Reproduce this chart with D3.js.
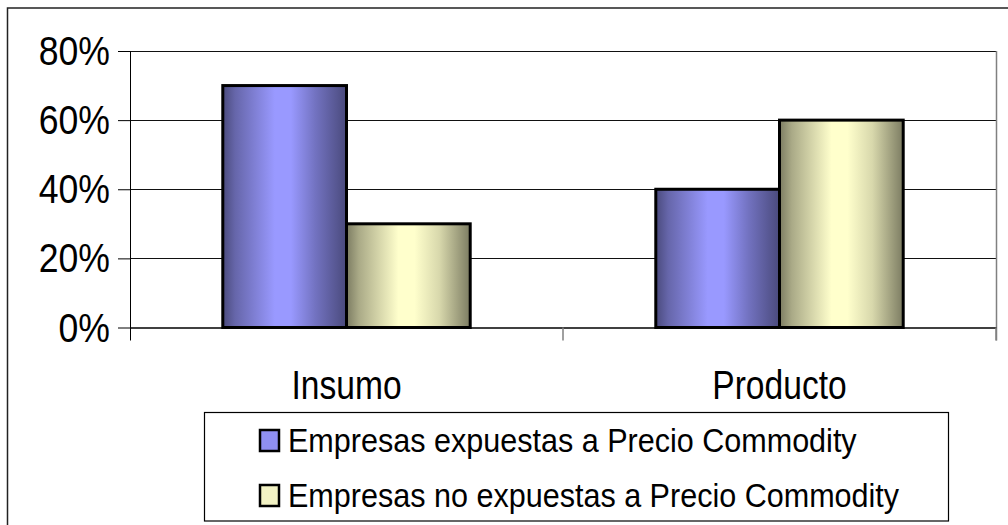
<!DOCTYPE html>
<html>
<head>
<meta charset="utf-8">
<script src="https://cdn.jsdelivr.net/npm/d3@7"></script>
<style>
  html, body { margin: 0; padding: 0; background: #fff; }
  svg { display: block; }
  text { font-family: "Liberation Sans", Arial, sans-serif; fill: #000; }
</style>
</head>
<body>
<svg id="chart" width="1008" height="525"></svg>
<script>
const categories = ["Insumo", "Producto"];
const seriesNames = ["Empresas expuestas a Precio Commodity", "Empresas no expuestas a Precio Commodity"];
const seriesExpuestas = [0.70, 0.40];
const seriesNoExpuestas = [0.30, 0.60];
const yTicks = [0, 0.2, 0.4, 0.6, 0.8];

const svg = d3.select("#chart");
const W = 1008, H = 525;
const plot = { left: 130, right: 996, top: 51, bottom: 327.5 };

// gradients
const defs = svg.append("defs");
function grad(id, edge, mid, peak) {
  const g = defs.append("linearGradient").attr("id", id).attr("x1", "0%").attr("x2", "100%").attr("y1", "0%").attr("y2", "0%");
  [[0, edge], [0.1, d3.interpolateRgb(edge, peak)(0.35)], [0.42, peak], [0.55, peak], [0.75, mid], [1, edge]]
    .forEach(([o, c]) => g.append("stop").attr("offset", o).attr("stop-color", c));
}
grad("gBlue", "#4a4a7c", "#7272c0", "#9999ff");
grad("gYellow", "#7c7c62", "#d8d8ac", "#ffffcc");
const fills = ["url(#gBlue)", "url(#gYellow)"];
const legendFills = ["#8f8ff2", "#f2f2c4"];

// outer chart border
svg.append("rect").attr("x", 7.5).attr("y", 8).attr("width", W + 20).attr("height", H + 20)
  .attr("fill", "none").attr("stroke", "#222").attr("stroke-width", 1.5);

const x0 = d3.scaleBand().domain(categories).range([plot.left, plot.right]).paddingInner(0).paddingOuter(0);
// Excel gap width 150% -> group occupies 2/(2+1.5) of band
const groupW = x0.bandwidth() * 2 / 3.5;
const x1 = d3.scaleBand().domain([0, 1]).range([0, groupW]);
const y = d3.scaleLinear().domain([0, 0.8]).range([plot.bottom, plot.top]);

// gridlines
svg.append("g").selectAll("line").data(yTicks.filter(d => d > 0)).join("line")
  .attr("x1", plot.left).attr("x2", plot.right)
  .attr("y1", d => Math.round(y(d)) + 0.5).attr("y2", d => Math.round(y(d)) + 0.5)
  .attr("stroke", "#111").attr("stroke-width", 1);

// plot right border
svg.append("line").attr("x1", plot.right + 0.5).attr("x2", plot.right + 0.5)
  .attr("y1", plot.top).attr("y2", plot.bottom + 13).attr("stroke", "#808080").attr("stroke-width", 1.5);

// bars
const data = [seriesExpuestas, seriesNoExpuestas];
categories.forEach((c, ci) => {
  const gx = x0(c) + (x0.bandwidth() - groupW) / 2;
  data.forEach((s, si) => {
    svg.append("rect")
      .attr("x", gx + x1(si)).attr("y", y(s[ci]))
      .attr("width", x1.bandwidth()).attr("height", plot.bottom - y(s[ci]))
      .attr("fill", fills[si]).attr("stroke", "#000").attr("stroke-width", 3);
  });
});

// x axis
const xAxis = d3.axisBottom(x0).tickSize(0).tickFormat("");
const xg = svg.append("g").attr("transform", `translate(0,${plot.bottom})`).call(xAxis);
xg.select(".domain").attr("stroke", "#000").attr("stroke-width", 1.5);
// category divider ticks (between categories and at ends)
const bounds = [plot.left + x0.bandwidth(), plot.right];
svg.append("g").selectAll("line").data(bounds).join("line")
  .attr("x1", d => d).attr("x2", d => d).attr("y1", plot.bottom).attr("y2", plot.bottom + 13)
  .attr("stroke", "#808080").attr("stroke-width", 1.5);

// category labels
svg.append("g").selectAll("text").data(categories).join("text")
  .attr("transform", d => `translate(${x0(d) + x0.bandwidth() / 2},399) scale(0.84,1)`)
  .attr("text-anchor", "middle").attr("font-size", 40).text(d => d);

// y axis
const yAxis = d3.axisLeft(y).tickValues(yTicks).tickSize(12).tickFormat(d3.format(".0%"));
const yg = svg.append("g").attr("transform", `translate(${plot.left},0)`).call(yAxis);
yg.select(".domain").remove();
yg.selectAll(".tick line").attr("stroke", "#000").attr("stroke-width", 1);
yg.selectAll(".tick text").remove();
svg.append("line").attr("x1", plot.left + 0.5).attr("x2", plot.left + 0.5)
  .attr("y1", plot.top).attr("y2", plot.bottom + 13).attr("stroke", "#000").attr("stroke-width", 1);
svg.append("g").selectAll("text").data(yTicks).join("text")
  .attr("transform", d => `translate(110,${y(d) + 14}) scale(0.89,1)`)
  .attr("text-anchor", "end").attr("font-size", 40).text(d3.format(".0%"));

// legend
const lg = svg.append("g");
lg.append("rect").attr("x", 204.5).attr("y", 412.5).attr("width", 744).attr("height", 108.5)
  .attr("fill", "#fff").attr("stroke", "#000").attr("stroke-width", 1.2);
const rowY = [452, 507];
seriesNames.forEach((n, i) => {
  lg.append("rect").attr("x", 260).attr("y", rowY[i] - 22).attr("width", 19).attr("height", 21)
    .attr("fill", legendFills[i]).attr("stroke", "#000").attr("stroke-width", 2.5);
  lg.append("text").attr("transform", `translate(288,${rowY[i]}) scale(0.94,1)`)
    .attr("font-size", 32.5).text(n);
});
</script>
</body>
</html>
